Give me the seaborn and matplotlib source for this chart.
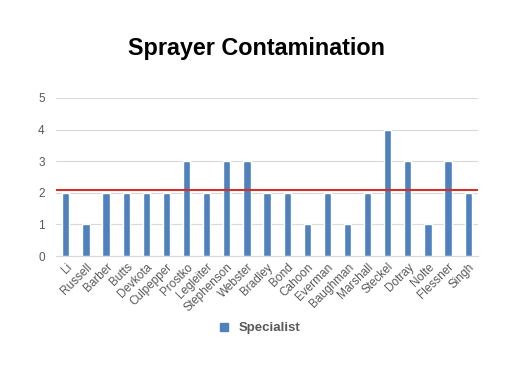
import matplotlib
matplotlib.use('Agg')
import matplotlib.pyplot as plt
import seaborn as sns
import pandas as pd

names = ['Li', 'Russell', 'Barber', 'Butts', 'Devkota', 'Culpepper', 'Prostko',
         'Legleiter', 'Stephenson', 'Webster', 'Bradley', 'Bond', 'Cahoon',
         'Everman', 'Baughman', 'Marshall', 'Steckel', 'Dotray', 'Nolte',
         'Flessner', 'Singh']
specialist = [2, 1, 2, 2, 2, 2, 3, 2, 3, 3, 2, 2, 1, 2, 1, 2, 4, 3, 1, 3, 2]
threshold = 2.1

sns.set_style('white')
plt.rcParams['font.family'] = ['Liberation Sans', 'DejaVu Sans']

df = pd.DataFrame({'name': names, 'value': specialist})

fig = plt.figure(figsize=(5.12, 3.84), dpi=100)
ax = fig.add_axes([0.109, 0.333, 0.825, 0.412])

sns.barplot(data=df, x='name', y='value', color='#4F81BD', saturation=1,
            width=0.36, ax=ax, legend=False)
ax.axhline(threshold, color='#D0312D', lw=1.5, zorder=3)

ax.set_ylim(0, 5)
ax.set_xlim(-0.5, len(names) - 0.5)
ax.set_yticks(range(6))
ax.yaxis.grid(True, color='#D9D9D9', lw=0.8)
ax.set_axisbelow(True)
for s in ['top', 'right', 'left']:
    ax.spines[s].set_visible(False)
ax.spines['bottom'].set_color('#D9D9D9')
ax.tick_params(axis='both', length=0, colors='#595959', labelsize=8.5)
ax.tick_params(axis='y', pad=8)
plt.setp(ax.get_xticklabels(), rotation=45, ha='right', rotation_mode='anchor')
ax.set_xlabel('')
ax.set_ylabel('')

fig.suptitle('Sprayer Contamination', y=0.873, va='center', fontsize=16.8,
             fontweight='bold', color='black')

handle = plt.Line2D([], [], marker='s', color='#4F81BD', ls='', markersize=6)
leg = fig.legend([handle], ['Specialist'], loc='center', bbox_to_anchor=(0.5, 0.145),
                 frameon=False, handletextpad=0.1, prop={'weight': 'bold', 'size': 9.5})
for t in leg.get_texts():
    t.set_color('#595959')

fig.savefig('out.png', dpi=100)
